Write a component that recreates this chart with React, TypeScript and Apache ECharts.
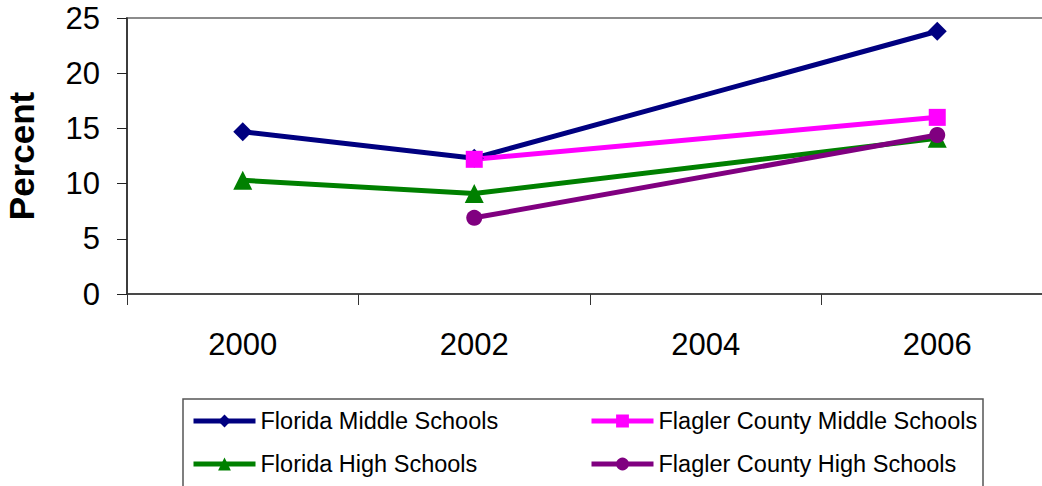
import React, { useEffect, useRef } from "react";
import * as echarts from "echarts";

const years = ["2000", "2002", "2004", "2006"];
const floridaMiddle = [14.7, 12.3, null, 23.8];
const flaglerMiddle = [null, 12.2, null, 16.0];
const floridaHigh = [10.3, 9.1, null, 14.1];
const flaglerHigh = [null, 6.9, null, 14.4];
const yTicks = { min: 0, max: 25, interval: 5 };

const FONT = "Liberation Sans, Arial, sans-serif";

export default function App() {
  const ref = useRef<HTMLDivElement>(null);
  useEffect(() => {
    document.body.style.margin = "0";
    const chart = echarts.init(ref.current!, null, { renderer: "svg" });
    const mk = (name: string, data: (number | null)[], color: string, symbol: string, size: number) => ({
      name,
      type: "line",
      data,
      connectNulls: true,
      symbol,
      symbolSize: size,
      showSymbol: true,
      lineStyle: { color, width: 5 },
      itemStyle: { color },
      emphasis: { disabled: true },
    });
    const legendBase = {
      top: 409,
      orient: "vertical",
      padding: 0,
      itemWidth: 62,
      itemHeight: 16,
      itemGap: 19,
      lineStyle: { width: 5 },
      textStyle: { fontSize: 23.5, color: "#000", fontFamily: FONT },
      selectedMode: false,
    };
    chart.setOption({
      animation: false,
      textStyle: { fontFamily: FONT },
      grid: {
        left: 127,
        top: 18,
        right: -11,
        bottom: 192,
        show: true,
        borderColor: "#8c8c8c",
        borderWidth: 2,
        containLabel: false,
        outerBoundsMode: "none",
      },
      xAxis: {
        type: "category",
        data: years,
        boundaryGap: true,
        axisLine: { lineStyle: { color: "#333", width: 1.5 } },
        axisTick: { show: true, length: 11, lineStyle: { color: "#333" } },
        axisLabel: { color: "#000", fontSize: 31, margin: 35, fontFamily: FONT },
        splitLine: { show: false },
      },
      yAxis: {
        type: "value",
        min: yTicks.min,
        max: yTicks.max,
        interval: yTicks.interval,
        name: "Percent",
        nameLocation: "middle",
        nameGap: 88,
        nameTextStyle: { fontSize: 35, fontWeight: "bold", color: "#000", fontFamily: FONT },
        axisLine: { show: true, lineStyle: { color: "#222", width: 1.5 } },
        axisTick: { show: true, length: 10, lineStyle: { color: "#222" } },
        axisLabel: { color: "#000", fontSize: 31, margin: 27, fontFamily: FONT },
        splitLine: { show: false },
      },
      legend: [
        { ...legendBase, left: 191, data: ["Florida Middle Schools", "Florida High Schools"] },
        { ...legendBase, left: 589, data: ["Flagler County Middle Schools", "Flagler County High Schools"] },
      ],
      graphic: [
        {
          type: "rect",
          shape: { x: 183, y: 399, width: 800, height: 120 },
          style: { fill: "none", stroke: "#555", lineWidth: 1.5 },
          z: -1,
        },
      ],
      series: [
        mk("Florida Middle Schools", floridaMiddle, "#000080", "diamond", 19),
        mk("Flagler County Middle Schools", flaglerMiddle, "#FF00FF", "rect", 17),
        mk("Florida High Schools", floridaHigh, "#008000", "triangle", 19),
        mk("Flagler County High Schools", flaglerHigh, "#800080", "circle", 16),
      ],
    });
    return () => chart.dispose();
  }, []);
  return <div ref={ref} style={{ width: 1042, height: 486 }} />;
}
